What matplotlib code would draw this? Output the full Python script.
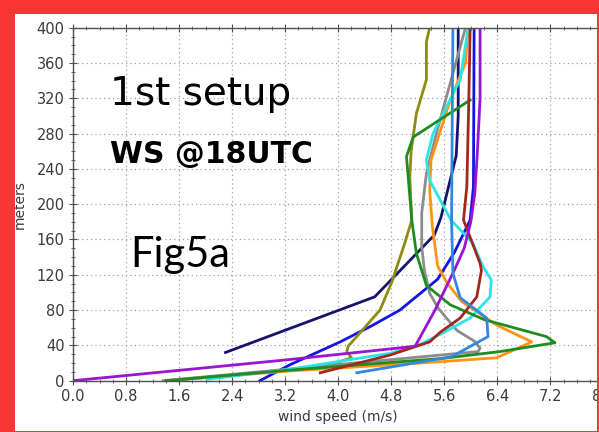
import matplotlib
matplotlib.use("Agg")
import matplotlib.pyplot as plt
from matplotlib.patches import Rectangle
from matplotlib.ticker import MultipleLocator, FormatStrFormatter

# wind speed (m/s) and height (m) of each profile
navy_ws = [2.3, 4.55, 5.45, 5.55, 5.78, 5.81, 5.81]
navy_z = [32, 95, 165, 185, 255, 300, 400]

blue_ws = [2.82, 3.27, 4.03, 4.5, 4.93, 5.5, 5.75, 5.99, 6.04, 6.05]
blue_z = [0, 18, 44, 62, 80, 115, 145, 182, 220, 400]

olive_ws = [1.45, 3.27, 4.0, 4.2, 4.13, 4.15, 4.28, 4.63, 4.81, 5.0, 5.11,
            5.08, 5.1, 5.18, 5.33, 5.33, 5.38]
olive_z = [0, 12, 21, 26, 33, 39, 50, 80, 112, 155, 182, 230, 260, 303, 341,
           384, 400]

gray_ws = [1.36, 6.11, 6.14, 6.05, 5.79, 5.51, 5.38, 5.3, 5.26, 5.26, 5.33,
           5.48, 5.7, 5.92]
gray_z = [0, 33, 37, 45, 57, 82, 99, 125, 152, 190, 235, 280, 340, 400]

orange_ws = [1.4, 3.27, 5.54, 6.39, 6.92, 6.39, 5.86, 5.64, 5.5, 5.42, 5.38,
             5.4, 5.69, 5.92, 5.96]
orange_z = [0, 11, 21.5, 26, 44, 63, 90, 111, 130, 175, 215, 250, 318, 360, 400]

cyan_ws = [2.02, 3.27, 4.78, 5.26, 5.6, 5.99, 6.29, 6.31, 6.18, 6.03, 5.7,
           5.38, 5.33, 5.43, 5.84, 5.96]
cyan_z = [1.5, 13, 31, 42, 55, 71, 95, 114, 130, 156, 182, 227, 250, 280, 341,
          400]

green_ws = [1.4, 3.27, 5.54, 6.44, 7.27, 7.14, 6.21, 5.69, 5.33, 5.18, 5.11,
            5.03, 5.13, 5.99]
green_z = [0, 12, 25, 33, 43, 50, 69, 86, 108, 144, 182, 254, 276, 318]

brown_ws = [3.73, 4.78, 5.38, 5.54, 5.84, 6.09, 6.16, 6.14, 5.89, 5.94, 5.97,
            5.99]
brown_z = [9, 29, 44, 55, 71, 95, 125, 133, 182, 220, 318, 400]

purple_ws = [0.0, 3.27, 4.78, 5.16, 5.46, 5.75, 5.9, 6.0, 6.06, 6.1, 6.14, 6.14]
purple_z = [0, 24, 36, 39, 80, 125, 150, 180, 212, 260, 320, 400]

sky_ws = [4.28, 5.7, 5.9, 6.26, 6.24, 5.84, 5.73, 5.71, 5.73]
sky_z = [9, 27, 35, 50, 71, 94, 122, 182, 400]

profiles = [
    (navy_ws, navy_z, "#14146e"),
    (blue_ws, blue_z, "#1414e6"),
    (olive_ws, olive_z, "#8c8c14"),
    (gray_ws, gray_z, "#8c8c8c"),
    (orange_ws, orange_z, "#ff9414"),
    (cyan_ws, cyan_z, "#28e6e6"),
    (green_ws, green_z, "#1e8c1e"),
    (brown_ws, brown_z, "#a0281e"),
    (purple_ws, purple_z, "#9a14d2"),
    (sky_ws, sky_z, "#3288e0"),
]

W, H = 599, 432
fig = plt.figure(figsize=(W / 100, H / 100), dpi=100, facecolor="white")

x0, x1 = 73.0, 603.4
ytop, ybot = 27.7, 380.7
ax = fig.add_axes([x0 / W, (H - ybot) / H, (x1 - x0) / W, (ybot - ytop) / H])

for ws, z, c in profiles:
    ax.plot(ws, z, color=c, lw=2.0, solid_joinstyle="round")

ax.set_xlim(0, 8)
ax.set_ylim(0, 400)
ax.xaxis.set_major_locator(MultipleLocator(0.8))
ax.xaxis.set_minor_locator(MultipleLocator(0.2))
ax.yaxis.set_major_locator(MultipleLocator(40))
ax.yaxis.set_minor_locator(MultipleLocator(10))
ax.xaxis.set_major_formatter(FormatStrFormatter("%.1f"))

ax.grid(True, which="major", color="#a0a0a0", linestyle=(0, (1, 2.5)), lw=0.9)
for sp in ax.spines.values():
    sp.set_color("#505050")
    sp.set_linewidth(1.0)
ax.tick_params(which="both", direction="inout", top=True, right=True,
               color="#505050", labelcolor="#3a3a3a", labelsize=10.5)
ax.tick_params(which="major", length=6, pad=3)
ax.tick_params(which="minor", length=3)

ax.set_xlabel("wind speed (m/s)", fontsize=10, color="#3a3a3a")
ax.set_ylabel("meters", fontsize=10, color="#3a3a3a")
ax.xaxis.set_label_coords(0.5, -0.083)
ax.yaxis.set_label_coords(-0.088, 0.5)

# slide annotations
ax.text(0.56, 312, "1st setup", fontsize=28, family="DejaVu Sans",
        color="black", va="baseline")
ax.text(0.56, 247, "WS @18UTC", fontsize=21.5, family="DejaVu Sans",
        fontweight="bold", color="black", va="baseline")
ax.text(0.86, 129, "Fig5a", fontsize=30, family="Lato", color="black",
        va="baseline")

# red slide frame drawn over the edges
red = "#f93636"
for (rx, ry, rw, rh) in [(0, 0, 15, H), (0, 0, W, 14), (597, 0, 2, H),
                         (0, 431, W, 1)]:
    fig.add_artist(Rectangle((rx / W, 1 - (ry + rh) / H), rw / W, rh / H,
                             transform=fig.transFigure, facecolor=red,
                             edgecolor="none", zorder=10))

fig.savefig("out.png", dpi=100, facecolor="white")
